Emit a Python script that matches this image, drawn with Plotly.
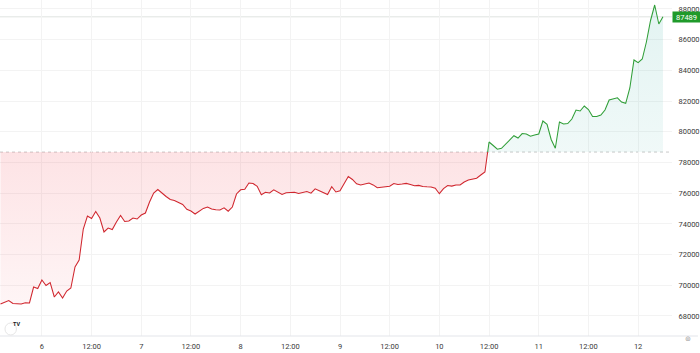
import numpy as np
import pandas as pd
import plotly.graph_objects as go

# ---- data (BTC price, hourly) ----
start_time = "2024-11-05 14:00"
prices = [
    68781, 68911, 69009, 68813, 68813, 68781, 68865, 68846, 69888, 69791,
    70344, 69986, 70181, 69237, 69563, 69172, 69628, 69823, 71191, 71647,
    73667, 74514, 74351, 74807, 74384, 73472, 73732, 73634, 74123, 74547,
    74156, 74188, 74384, 74318, 74579, 74709, 75426, 76012, 76240, 75980,
    75784, 75589, 75524, 75394, 75263, 74950, 74840, 74644, 74853, 75009,
    75100, 74970, 74918, 74905, 75048, 74827, 75100, 75947, 76221, 76260,
    76664, 76631, 76449, 75895, 76058, 76012, 76221, 76045, 75915, 76025,
    76058, 76058, 75986, 76025, 76110, 75999, 76286, 76162, 76058, 75915,
    76423, 76078, 76156, 76579, 77087, 76892, 76612, 76534, 76592, 76664,
    76540, 76351, 76390, 76423, 76449, 76631, 76566, 76592, 76638, 76573,
    76488, 76508, 76429, 76416, 76410, 76319, 75967, 76299, 76501, 76462,
    76534, 76534, 76729, 76859, 76912, 76977, 77185, 77381, 79335, 79107,
    78866, 78925, 79218, 79504, 79745, 79596, 79882, 79856, 79706, 79785,
    79856, 80703, 80488, 79498, 78925, 80638, 80508, 80540, 80833, 81420,
    81355, 81680, 81452, 80996, 80996, 81094, 81420, 82071, 82136, 82215,
    81941, 81856, 82853, 84677, 84501, 84742, 85850, 87251, 88261, 87023,
    87489,
]
base_level = 78680
y_ticks = [68000, 70000, 72000, 74000, 76000, 78000, 80000, 82000, 84000, 86000, 88000]
x_tick_times = ["2024-11-06 00:00", "2024-11-06 12:00", "2024-11-07 00:00", "2024-11-07 12:00",
                "2024-11-08 00:00", "2024-11-08 12:00", "2024-11-09 00:00", "2024-11-09 12:00",
                "2024-11-10 00:00", "2024-11-10 12:00", "2024-11-11 00:00", "2024-11-11 12:00",
                "2024-11-12 00:00"]
x_tick_text = ["6", "12:00", "7", "12:00", "8", "12:00", "9", "12:00", "10", "12:00", "11", "12:00", "12"]

# ---- build baseline-split series ----
times = pd.date_range(start_time, periods=len(prices), freq="h")
t = times.asi8.astype(float)
p = np.array(prices, dtype=float)
xs, ys = [t[0]], [p[0]]
for i in range(1, len(p)):
    a, b = p[i - 1] - base_level, p[i] - base_level
    if a * b < 0:
        f = a / (a - b)
        xs.append(t[i - 1] + f * (t[i] - t[i - 1]))
        ys.append(base_level)
    xs.append(t[i])
    ys.append(p[i])
xs = pd.to_datetime(np.array(xs).astype("int64"))
ys = np.array(ys)
upper = np.maximum(ys, base_level)
lower = np.minimum(ys, base_level)
green_y = np.where(ys >= base_level, ys, np.nan)
red_y = np.where(ys <= base_level, ys, np.nan)
base_arr = np.full(len(ys), base_level, dtype=float)

GREEN = "#2f9e37"
RED = "#d0262e"
FONT = "Roboto"

fig = go.Figure()
fig.add_trace(go.Scatter(x=xs, y=base_arr, mode="lines", line=dict(width=0), hoverinfo="skip", showlegend=False))
fig.add_trace(go.Scatter(x=xs, y=upper, mode="lines", line=dict(width=0), fill="tonexty",
                         fillgradient=dict(type="vertical",
                                           colorscale=[[0, "rgba(38,166,154,0.07)"], [1, "rgba(38,166,154,0.13)"]],
                                           start=base_level, stop=max(prices)),
                         hoverinfo="skip", showlegend=False))
fig.add_trace(go.Scatter(x=xs, y=base_arr, mode="lines", line=dict(width=0), hoverinfo="skip", showlegend=False))
fig.add_trace(go.Scatter(x=xs, y=lower, mode="lines", line=dict(width=0), fill="tonexty",
                         fillgradient=dict(type="vertical",
                                           colorscale=[[0, "rgba(242,54,69,0.05)"], [1, "rgba(242,54,69,0.14)"]],
                                           start=min(prices), stop=base_level),
                         hoverinfo="skip", showlegend=False))
fig.add_trace(go.Scatter(x=xs, y=red_y, mode="lines", line=dict(color=RED, width=1.05), showlegend=False))
fig.add_trace(go.Scatter(x=xs, y=green_y, mode="lines", line=dict(color=GREEN, width=1.05), showlegend=False))

# baseline dotted line and last price line
fig.add_shape(type="line", xref="paper", x0=0, x1=1, yref="y", y0=base_level, y1=base_level,
              line=dict(color="#c9c9c9", width=1, dash="dot"), layer="below")
fig.add_shape(type="line", xref="paper", x0=0, x1=1, yref="y", y0=prices[-1], y1=prices[-1],
              line=dict(color="#dfe3e0", width=1), layer="below")
# bottom axis separator line spanning full width
fig.add_shape(type="line", xref="paper", x0=0, x1=700 / 674, yref="paper", y0=0, y1=0,
              line=dict(color="#e3e5ea", width=1))

# last price label
fig.add_annotation(x=1, xref="paper", xanchor="left", y=prices[-1], yref="y",
                   text=str(prices[-1]), showarrow=False, bgcolor="#1f9a2a",
                   font=dict(color="white", size=7.5, family=FONT), width=25, height=8,
                   borderpad=1, align="center")

# TV logo
fig.add_shape(type="circle", xref="paper", yref="paper",
              x0=5 / 674, x1=16.5 / 674, y0=(336 - 335) / 336, y1=(336 - 323) / 336,
              line=dict(color="#e6e6e6", width=1), fillcolor="white")
fig.add_annotation(x=10.8 / 674, y=(336 - 329) / 336, xref="paper", yref="paper",
                   text="<b>TV</b>", showarrow=False, font=dict(size=5.5, color="#131722", family=FONT))
# settings icon
fig.add_annotation(x=695 / 674, y=-(345 - 336) / 336, xref="paper", yref="paper",
                   text="⊚", showarrow=False, font=dict(size=7, color="#9a9a9a", family="DejaVu Sans"))

fig.update_layout(
    width=700, height=353,
    margin=dict(l=0, r=26, t=0, b=17),
    paper_bgcolor="white", plot_bgcolor="white",
    font=dict(family=FONT, size=7.5, color="#3a3a3a"),
    showlegend=False,
    hovermode=False,
)
fig.update_xaxes(
    range=["2024-11-05 13:53", "2024-11-12 08:11"],
    tickvals=x_tick_times, ticktext=x_tick_text,
    showgrid=True, gridcolor="#f3f3f3", gridwidth=1,
    zeroline=False, showline=False,
    ticks="outside", ticklen=3, tickcolor="rgba(0,0,0,0)",
    tickfont=dict(size=7.5, color="#3a3a3a"),
)
fig.update_yaxes(
    range=[66696, 88586], side="right",
    tickvals=y_ticks, tickformat="d",
    showgrid=True, gridcolor="#f3f3f3", gridwidth=1,
    zeroline=False, showline=False,
    ticks="outside", ticklen=4, tickcolor="rgba(0,0,0,0)",
    tickfont=dict(size=7.5, color="#3a3a3a"),
)

fig.write_html("out.html")
